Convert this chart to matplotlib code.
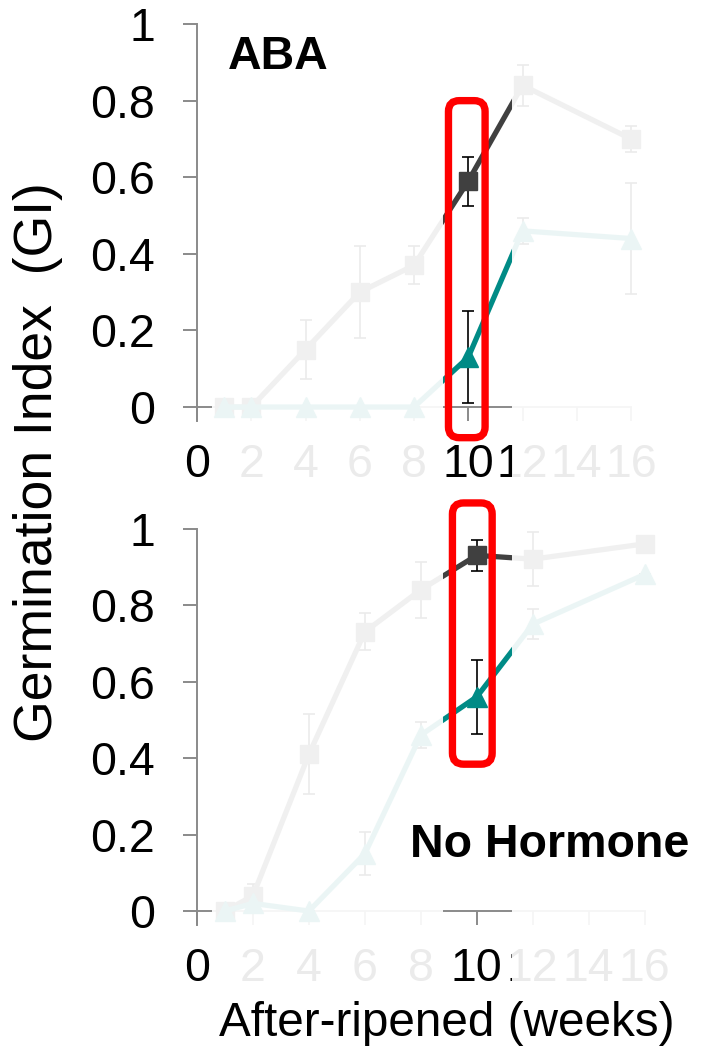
import numpy as np
import matplotlib
matplotlib.use('Agg')
import matplotlib.pyplot as plt
from matplotlib.patches import Rectangle, FancyBboxPatch

plt.rcParams['font.family'] = ['Liberation Sans', 'DejaVu Sans']

weeks = [1, 2, 4, 6, 8, 10, 12, 16]

# ABA panel
aba_sq = [0, 0, 0.15, 0.30, 0.37, 0.59, 0.84, 0.70]
aba_sq_err = [0, 0, 0.078, 0.12, 0.05, 0.064, 0.054, 0.035]
aba_tri = [0, 0, 0, 0, 0, 0.13, 0.46, 0.44]
aba_tri_err = [0, 0, 0, 0, 0, 0.12, 0.034, 0.145]

# No hormone panel
noh_sq = [0, 0.04, 0.41, 0.73, 0.84, 0.93, 0.92, 0.96]
noh_sq_err = [0, 0.03, 0.105, 0.048, 0.073, 0.041, 0.07, 0.0]
noh_tri = [0, 0.02, 0, 0.15, 0.46, 0.56, 0.75, 0.88]
noh_tri_err = [0, 0, 0, 0.057, 0.035, 0.096, 0.04, 0.0]

highlight_week = 10
yticks = [0, 0.2, 0.4, 0.6, 0.8, 1.0]
ytick_labels = ['0', '0.2', '0.4', '0.6', '0.8', '1']
xticks = [0, 2, 4, 6, 8, 10, 12, 14, 16]

DARK = '#404040'
TEAL = '#008b86'
AXC = '#8a8a8a'
FS = 33.5

fig = plt.figure(figsize=(7.09, 10.5), dpi=100)
ax_top = fig.add_axes([0.2779, 0.599, 0.6121, 0.3781])
ax_bot = fig.add_axes([0.2779, 0.119, 0.6313, 0.3776])


def draw_panel(ax, sq, sq_err, tri, tri_err, box):
    ax.errorbar(weeks, sq, yerr=sq_err, color=DARK, lw=3.8, marker='s', ms=13.5,
                ecolor='black', elinewidth=1.2, capsize=4.5, capthick=1.2,
                clip_on=False, zorder=3)
    ax.errorbar(weeks, tri, yerr=tri_err, color=TEAL, lw=3.8, marker='^', ms=15,
                ecolor='black', elinewidth=1.2, capsize=4.5, capthick=1.2,
                clip_on=False, zorder=3)
    ax.set_xlim(0, 16)
    ax.set_ylim(-0.0366, 1)
    for s in ['top', 'right']:
        ax.spines[s].set_visible(False)
    ax.spines['bottom'].set_position(('data', 0))
    for s in ['left', 'bottom']:
        ax.spines[s].set_color(AXC)
        ax.spines[s].set_linewidth(1.4)
    ax.set_yticks(yticks)
    ax.set_yticklabels(ytick_labels)
    ax.set_xticks(xticks)
    ax.tick_params(axis='y', direction='out', length=10, width=1.4, color=AXC,
                   labelsize=FS, pad=20)
    ax.tick_params(axis='x', direction='out', length=10, width=1.4, color=AXC,
                   labelsize=FS, pad=16)
    ax.patch.set_visible(False)
    # red highlight box around the highlighted week
    x0, x1, y0, y1, aspect = box
    rect = FancyBboxPatch((x0, y0), x1 - x0, y1 - y0,
                          boxstyle='round,pad=0,rounding_size=0.4',
                          mutation_aspect=aspect, fill=False, ec='#ff0000',
                          lw=5.3, clip_on=False, zorder=10)
    ax.add_patch(rect)


draw_panel(ax_top, aba_sq, aba_sq_err, aba_tri, aba_tri_err,
           (highlight_week - 0.73, highlight_week + 0.62, -0.08, 0.80, 27.1 / 383))
draw_panel(ax_bot, noh_sq, noh_sq_err, noh_tri, noh_tri_err,
           (highlight_week - 0.87, highlight_week + 0.55, 0.384, 1.067, 28.0 / 382))

# fade everything except the highlighted strip
W, H = 709, 1050
for (xa, xb) in [(212, 443), (512, 709)]:
    fig.add_artist(Rectangle((xa / W, 1 - 994 / H), (xb - xa) / W, 994 / H,
                             transform=fig.transFigure, facecolor='white',
                             edgecolor='none', alpha=0.925, zorder=3))

fig.text(228 / W, 1 - 57 / H, 'ABA', fontsize=FS, fontweight='bold',
         va='center', ha='left', zorder=6)
fig.text(410 / W, 1 - 845 / H, 'No Hormone', fontsize=FS, fontweight='bold',
         va='center', ha='left', zorder=6)
fig.text(38 / W, 1 - 462 / H, 'Germination Index  (GI)', fontsize=38.5,
         rotation=90, va='center', ha='center', zorder=6)
fig.text(447 / W, 1 - 1023 / H, 'After-ripened (weeks)', fontsize=34.3,
         va='center', ha='center', zorder=6)

fig.savefig('out.png', dpi=100)
